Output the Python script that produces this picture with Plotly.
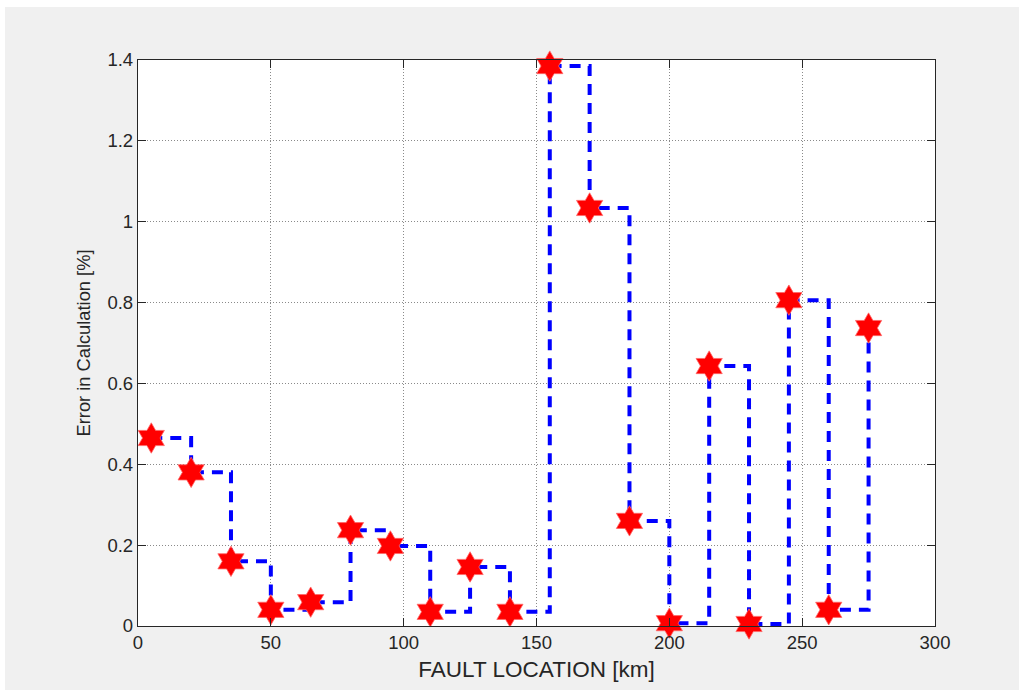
import plotly.graph_objects as go

fault_location_km = [5, 20, 35, 50, 65, 80, 95, 110, 125, 140, 155, 170, 185, 200, 215, 230, 245, 260, 275]
error_percent = [0.465, 0.380, 0.160, 0.040, 0.059, 0.237, 0.198, 0.035, 0.146, 0.035,
                 1.385, 1.034, 0.260, 0.007, 0.643, 0.005, 0.806, 0.040, 0.737]
x_ticks = [0, 50, 100, 150, 200, 250, 300]
y_ticks = [0, 0.2, 0.4, 0.6, 0.8, 1.0, 1.2, 1.4]
y_tick_labels = ["0", "0.2", "0.4", "0.6", "0.8", "1", "1.2", "1.4"]

W, H = 1019, 690
L, R, T, B = 138, 935, 60, 626

fig = go.Figure()
fig.add_trace(go.Scatter(
    x=fault_location_km, y=error_percent, mode="lines", cliponaxis=False,
    line=dict(shape="hv", color="#0000ff", width=4, dash="11px,8px"),
    hoverinfo="skip", showlegend=False))
fig.add_trace(go.Scatter(
    x=fault_location_km, y=error_percent, mode="markers", cliponaxis=False,
    marker=dict(symbol="hexagram", size=23, color="#ff0000",
                line=dict(color="#ff6666", width=0.8)),
    showlegend=False))

font = "Liberation Sans, Arial, Helvetica, sans-serif"
axis_common = dict(
    showline=True, linecolor="#262626", linewidth=1.3, mirror="ticks",
    ticks="inside", ticklen=8, tickcolor="#262626",
    showgrid=True, gridcolor="#8a8a8a", gridwidth=1, griddash="1px,2px",
    zeroline=False, tickfont=dict(family=font, size=18.5, color="#262626"),
)
fig.update_xaxes(range=[0, 300], tickvals=x_ticks, ticktext=[str(v) for v in x_ticks],
                 title=dict(text="FAULT LOCATION [km]", font=dict(family=font, size=22.5, color="#262626"), standoff=8),
                 **axis_common)
fig.update_yaxes(range=[0, 1.4], tickvals=y_ticks, ticktext=y_tick_labels,
                 title=dict(text="Error in Calculation [%]", font=dict(family=font, size=18.3, color="#262626"), standoff=12),
                 **axis_common)

pw, ph = R - L, B - T
fig.add_shape(type="rect", xref="paper", yref="paper", layer="below",
              x0=(0 - L) / pw, x1=(5 - L) / pw, y0=(B - H) / ph, y1=(B - 0) / ph,
              fillcolor="white", line=dict(width=0))
fig.add_shape(type="rect", xref="paper", yref="paper", layer="below",
              x0=(0 - L) / pw, x1=(W - L) / pw, y0=(B - 7) / ph, y1=(B + 10) / ph,
              fillcolor="white", line=dict(width=0))

fig.update_layout(
    width=W, height=H,
    margin=dict(l=L, r=W - R, t=T, b=H - B, pad=0),
    paper_bgcolor="#f0f0f0", plot_bgcolor="white",
    showlegend=False,
)
fig.write_html("out.html")
